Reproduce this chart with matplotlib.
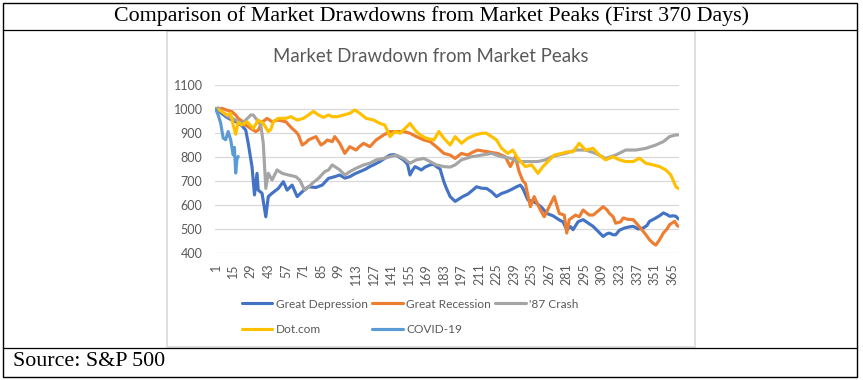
import matplotlib
matplotlib.use('Agg')
import matplotlib.pyplot as plt
from matplotlib.lines import Line2D
from matplotlib.patches import Rectangle

# 数据：各次市场回撤（起点=1000）
gd_days = [1, 5, 10, 14, 18, 22, 25, 27, 30, 32, 34, 35, 38, 41, 43, 46, 51, 55, 58, 62, 66, 70, 75, 81, 86,
           91, 96, 100, 104, 108, 112, 116, 120, 124, 128, 132, 136, 140, 143, 146, 151, 154, 156, 158, 160,
           163, 165, 168, 172, 175, 177, 180, 183, 185, 188, 192, 195, 198, 202, 206, 209, 213, 217, 221, 225,
           229, 233, 237, 241, 244, 246, 250, 254, 257, 261, 265, 270, 275, 278, 281, 284, 286, 290, 294, 298,
           302, 306, 310, 313, 315, 318, 320, 323, 327, 330, 334, 338, 342, 345, 347, 350, 352, 355, 358, 361,
           363, 366, 368, 370]
gd_vals = [1000, 985, 965, 954, 945, 930, 912, 857, 760, 642, 732, 662, 649, 551, 635, 649, 669, 697, 662, 683,
           635, 655, 676, 673, 683, 711, 718, 725, 712, 718, 730, 739, 748, 760, 770, 781, 795, 808, 810, 804,
           787, 770, 725, 745, 760, 752, 746, 758, 767, 770, 760, 750, 697, 670, 635, 615, 625, 635, 645, 662,
           676, 670, 669, 655, 635, 648, 655, 665, 676, 683, 669, 621, 615, 607, 590, 565, 555, 538, 530, 497,
           510, 497, 530, 539, 525, 511, 490, 469, 480, 483, 476, 476, 495, 504, 508, 511, 500, 504, 515, 532,
           540, 546, 555, 567, 560, 553, 555, 553, 542]

gr_days = [1, 4, 6, 10, 14, 17, 19, 22, 25, 29, 33, 35, 38, 42, 46, 51, 54, 57, 62, 65, 67, 70, 73, 75, 78,
           81, 85, 88, 90, 94, 96, 100, 104, 108, 113, 116, 119, 124, 129, 135, 140, 145, 151, 156, 161, 167,
           172, 177, 183, 188, 192, 197, 202, 206, 210, 214, 218, 222, 226, 232, 236, 240, 243, 246, 248, 250,
           252, 255, 258, 260, 263, 267, 271, 275, 279, 281, 283, 288, 291, 294, 299, 302, 306, 310, 313, 315,
           318, 320, 324, 326, 330, 334, 338, 342, 345, 347, 350, 352, 355, 358, 361, 363, 365, 367, 369, 370]
gr_vals = [1000, 1000, 1003, 995, 989, 975, 961, 950, 933, 919, 906, 912, 945, 961, 947, 954, 950, 947, 919,
           905, 892, 850, 860, 871, 878, 885, 850, 860, 871, 864, 885, 857, 815, 843, 829, 845, 857, 843, 871,
           892, 906, 906, 906, 899, 885, 871, 864, 843, 815, 808, 794, 815, 808, 820, 829, 825, 822, 818, 815,
           801, 760, 801, 739, 700, 690, 640, 593, 635, 600, 579, 551, 593, 635, 565, 558, 483, 539, 558, 551,
           579, 558, 558, 575, 593, 580, 565, 551, 524, 530, 546, 540, 539, 515, 490, 470, 455, 440, 433, 455,
           483, 500, 518, 525, 532, 515, 511]

c87_days = [1, 3, 6, 11, 17, 22, 25, 29, 31, 34, 37, 39, 41, 43, 46, 50, 54, 59, 65, 68, 72, 75, 78, 83, 88,
            91, 94, 96, 100, 104, 108, 113, 119, 124, 129, 135, 140, 145, 151, 156, 161, 167, 172, 177, 183,
            188, 192, 197, 205, 213, 221, 229, 237, 242, 248, 253, 258, 264, 269, 274, 280, 288, 296, 304, 312,
            320, 328, 336, 344, 352, 358, 363, 368, 370]
c87_vals = [1000, 1005, 989, 968, 954, 940, 954, 975, 975, 954, 933, 857, 669, 732, 704, 746, 732, 725, 718,
            704, 662, 675, 690, 711, 739, 746, 767, 760, 746, 725, 739, 753, 767, 774, 788, 794, 801, 808, 794,
            774, 788, 794, 781, 767, 760, 758, 767, 788, 801, 808, 815, 801, 794, 781, 781, 781, 781, 788, 801,
            808, 815, 829, 829, 815, 794, 808, 829, 829, 836, 850, 864, 885, 892, 892]

dot_days = [1, 4, 6, 10, 13, 15, 17, 19, 22, 26, 31, 35, 39, 43, 45, 47, 51, 57, 61, 66, 71, 75, 79, 83, 87,
            91, 94, 98, 103, 108, 112, 116, 121, 127, 132, 136, 140, 144, 148, 152, 156, 160, 164, 169, 175,
            179, 183, 188, 192, 197, 202, 208, 213, 217, 221, 225, 229, 234, 238, 242, 248, 253, 258, 262, 266,
            271, 277, 282, 286, 291, 296, 302, 307, 312, 318, 323, 328, 334, 339, 344, 350, 355, 360, 364, 368,
            370]
dot_vals = [1000, 995, 989, 975, 982, 933, 895, 945, 933, 947, 919, 954, 940, 906, 915, 947, 961, 961, 968,
            954, 961, 975, 990, 975, 965, 975, 968, 968, 975, 982, 996, 982, 961, 954, 940, 933, 885, 906, 899,
            919, 940, 912, 892, 878, 871, 906, 878, 850, 885, 857, 878, 892, 899, 899, 885, 871, 836, 815, 829,
            794, 760, 767, 732, 760, 781, 808, 815, 822, 822, 857, 829, 836, 808, 788, 801, 788, 781, 781, 795,
            774, 767, 760, 746, 725, 676, 669]

covid_days = [1, 3, 5, 7, 9, 11, 13, 15, 16, 17, 18, 19]
covid_vals = [1000, 975, 942, 879, 872, 906, 872, 809, 840, 733, 790, 802]

series_names = ['Great Depression', 'Great Recession', "'87 Crash", 'Dot.com', 'COVID-19']
series_colors = ['#4472C4', '#ED7D31', '#A5A5A5', '#FFC000', '#5B9BD5']
series_days = [gd_days, gr_days, c87_days, dot_days, covid_days]
series_vals = [gd_vals, gr_vals, c87_vals, dot_vals, covid_vals]

x_ticks = list(range(1, 371, 14))
y_ticks = list(range(400, 1101, 100))

W, H = 863, 380
txt_gray = '#595959'
chart_font = ['Lato', 'DejaVu Sans']
serif_font = ['Liberation Serif', 'DejaVu Serif']


def fx(px):
    return px / W


def fy(py):
    return 1 - py / H


fig = plt.figure(figsize=(W / 100, H / 100), dpi=100)
fig.patch.set_facecolor('white')

# 外框与表格线
fig.add_artist(Rectangle((fx(2.5), fy(376.5)), fx(857) - fx(2.5), fy(2.5) - fy(376.5),
                         transform=fig.transFigure, fill=False, edgecolor='black', lw=1.0))
fig.add_artist(Line2D([fx(2.5), fx(857)], [fy(30), fy(30)], transform=fig.transFigure, color='black', lw=0.9))
fig.add_artist(Line2D([fx(2.5), fx(857)], [fy(348), fy(348)], transform=fig.transFigure, color='black', lw=0.9))
# 图表区浅灰边框
fig.add_artist(Rectangle((fx(167), fy(346.5)), fx(695) - fx(167), fy(31) - fy(346.5),
                         transform=fig.transFigure, fill=False, edgecolor='#D9D9D9', lw=1.2))

fig.text(fx(431), fy(16.5), 'Comparison of Market Drawdowns from Market Peaks (First 370 Days)',
         ha='center', va='center', fontsize=15.8, family=serif_font, color='black')
fig.text(fx(13), fy(362), 'Source: S&P 500', ha='left', va='center', fontsize=15.8,
         family=serif_font, color='black')
fig.text(fx(431), fy(56), 'Market Drawdown from Market Peaks', ha='center', va='center',
         fontsize=13.4, family=chart_font, color=txt_gray)

ax = fig.add_axes([fx(215), fy(253), fx(679) - fx(215), fy(85) - fy(253)])
handles = []
for name, color, d, v in zip(series_names, series_colors, series_days, series_vals):
    ln, = ax.plot(d, v, color=color, lw=2.25, label=name, solid_joinstyle='round', solid_capstyle='round')
    handles.append(ln)

ax.set_xlim(0.5, 370.5)
ax.set_ylim(400, 1100)
ax.set_yticks(y_ticks)
ax.set_xticks(x_ticks)
ax.set_xticklabels([str(t) for t in x_ticks], rotation=90)
ax.grid(axis='y', color='#D9D9D9', lw=0.9)
ax.set_axisbelow(True)
for s in ['top', 'right', 'left', 'bottom']:
    ax.spines[s].set_visible(False)
ax.tick_params(axis='both', length=0, labelsize=9, labelcolor=txt_gray)
ax.tick_params(axis='x', pad=7.5)
ax.tick_params(axis='y', pad=9)
for lab in ax.get_xticklabels() + ax.get_yticklabels():
    lab.set_family(chart_font)

# 图例：按行排列（matplotlib 按列填充，所以重新排序）
order = [0, 3, 1, 4, 2]
leg = fig.legend([handles[i] for i in order], [series_names[i] for i in order], ncol=3,
                 loc='upper left', bbox_to_anchor=(fx(242), fy(298.5)), frameon=False,
                 borderpad=0, borderaxespad=0, handlelength=2.55, handletextpad=0.3,
                 columnspacing=0.35, labelspacing=1.25, prop={'family': chart_font, 'size': 8.6})
for t in leg.get_texts():
    t.set_color(txt_gray)

fig.savefig('out.png', dpi=100)
